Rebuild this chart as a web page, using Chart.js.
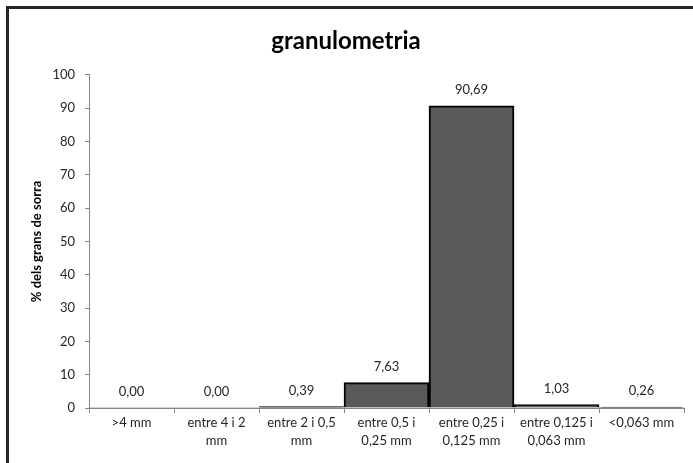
<!DOCTYPE html>
<html>
<head>
<meta charset="utf-8">
<script src="https://cdn.jsdelivr.net/npm/chart.js@4"></script>
<style>
  html, body { margin: 0; padding: 0; background: #fff; }
  #wrap { width: 693px; height: 463px; position: relative; }
</style>
</head>
<body>
<div id="wrap"><canvas id="granChart"></canvas></div>
<script>
// categories (x) and percentages
const categories = [
  [">4 mm"],
  ["entre 4 i 2", "mm"],
  ["entre 2 i 0,5", "mm"],
  ["entre 0,5 i", "0,25 mm"],
  ["entre 0,25 i", "0,125 mm"],
  ["entre 0,125 i", "0,063 mm"],
  ["<0,063 mm"],
];
const percentages = [0.0, 0.0, 0.39, 7.63, 90.69, 1.03, 0.26];
const yTicks = [0, 10, 20, 30, 40, 50, 60, 70, 80, 90, 100];

const FONT = "Lato, 'Open Sans', sans-serif";

// value labels above each bar, e.g. "90,69"
const barLabels = {
  id: "barLabels",
  afterDatasetsDraw(chart) {
    const c = chart.ctx;
    const meta = chart.getDatasetMeta(0);
    c.save();
    c.font = "13px " + FONT;
    c.fillStyle = "#262626";
    c.textAlign = "center";
    c.textBaseline = "middle";
    meta.data.forEach((bar, i) => {
      const txt = percentages[i].toFixed(2).replace(".", ",");
      c.fillText(txt, bar.x, bar.y - 16);
    });
    c.restore();
  },
};

// frame round the chart (left and top edges are visible)
const frame = {
  id: "frame",
  beforeDraw(chart) {
    const c = chart.ctx;
    c.save();
    c.strokeStyle = "#262626";
    c.lineWidth = 3;
    c.strokeRect(7.5, 7.5, 700, 470);
    c.restore();
  },
};

new Chart(document.getElementById("granChart"), {
  type: "bar",
  data: {
    labels: categories,
    datasets: [
      {
        data: percentages,
        backgroundColor: "#595959",
        borderColor: "#000",
        borderWidth: (ctx) => (percentages[ctx.dataIndex] > 0 ? 2 : 0),
        categoryPercentage: 1.0,
        barPercentage: 1.0,
      },
    ],
  },
  options: {
    responsive: true,
    maintainAspectRatio: false,
    animation: false,
    layout: { padding: { left: 8, right: 9, top: 0, bottom: 0 } },
    plugins: {
      legend: { display: false },
      tooltip: { enabled: false },
      title: {
        display: true,
        text: "granulometria",
        color: "#000",
        font: { family: FONT, size: 24, weight: "bold", lineHeight: 1.2 },
        padding: { top: 27, bottom: 19 },
      },
    },
    scales: {
      x: {
        grid: {
          display: true,
          drawOnChartArea: false,
          drawTicks: true,
          tickLength: 5,
          color: "#868686",
          offset: true,
        },
        border: { display: true, color: "#868686", width: 1 },
        ticks: {
          color: "#262626",
          font: { family: FONT, size: 13, lineHeight: 1.35 },
          padding: 1,
          maxRotation: 0,
          autoSkip: false,
        },
        afterFit: (scale) => { scale.height = 55; },
      },
      y: {
        min: 0,
        max: 100,
        afterBuildTicks: (scale) => {
          scale.ticks = yTicks.map((v) => ({ value: v }));
        },
        grid: {
          display: true,
          drawOnChartArea: false,
          drawTicks: true,
          tickLength: 4,
          color: "#868686",
        },
        border: { display: true, color: "#868686", width: 1 },
        ticks: {
          color: "#262626",
          font: { family: FONT, size: 13 },
          padding: 10,
        },
        title: {
          display: true,
          text: "% dels grans de sorra",
          color: "#000",
          font: { family: FONT, size: 13, weight: "bold", lineHeight: 1.2 },
          padding: { top: 21, bottom: 0 },
        },
        afterFit: (scale) => { scale.width = 81; },
      },
    },
  },
  plugins: [frame, barLabels],
});
</script>
</body>
</html>
